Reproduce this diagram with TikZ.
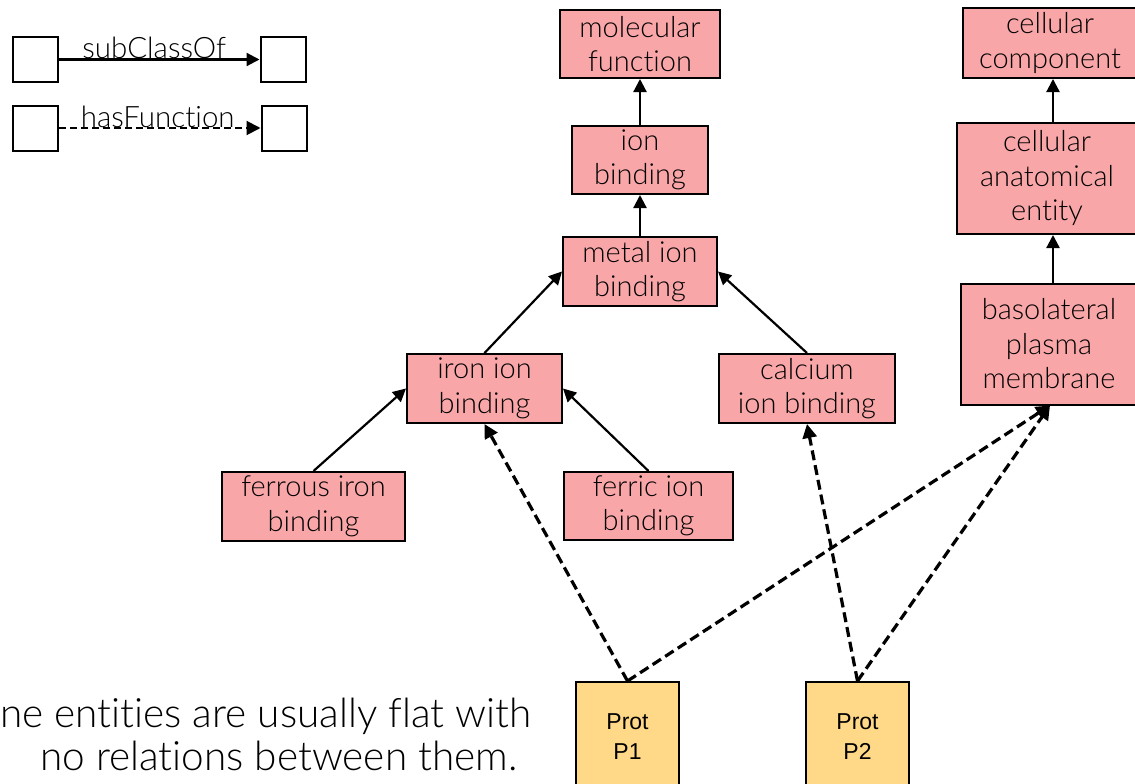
\documentclass[tikz,border=0pt]{standalone}
\usepackage{fontspec}
\setmainfont{Lato}[UprightFont=* Light, Ligatures=NoCommon]
\newfontfamily\protfont{Liberation Sans}
\usetikzlibrary{arrows.meta}
\definecolor{boxpink}{RGB}{249,166,168}
\definecolor{protyellow}{RGB}{255,217,135}
\tikzset{
  gobox/.style={draw=black, line width=2pt, fill=boxpink, inner sep=0pt, align=center,
    font=\fontsize{29}{34.5}\selectfont},
  protbox/.style={draw=black, line width=2pt, fill=protyellow, inner sep=0pt, align=center,
    font=\protfont\fontsize{23}{30}\selectfont},
  legbox/.style={draw=black, line width=2pt, fill=white, inner sep=0pt, minimum width=45pt, minimum height=45pt},
  subcl/.style={line width=2.2pt, -{Triangle[length=13pt,width=13pt]}},
  hasfn/.style={line width=3.2pt, dash pattern=on 10pt off 5pt, -{Triangle[length=14pt,width=14pt]}},
  leglabel/.style={inner sep=0pt, font=\fontsize{29.5}{32}\selectfont},
  bigtext/.style={inner sep=0pt, font=\fontsize{40.5}{45}\selectfont}
}
\begin{document}
\begin{tikzpicture}[x=1pt,y=-1pt]
\useasboundingbox (0,0) rectangle (1135,784);
% legend
\node[legbox] (l1) at (35.5,59.5) {};
\node[legbox] (l2) at (283,59.5) {};
\node[legbox] (l3) at (35.5,128) {};
\node[legbox] (l4) at (284,128) {};
\draw[subcl] (l1) -- (l2) node[leglabel, midway, anchor=base, yshift=1pt, xshift=-5pt] (lab1) {subClassOf};
\draw[hasfn, line width=2pt, dash pattern=on 7pt off 4pt] (l3) -- (l4) node[leglabel, midway, anchor=base, yshift=1pt, xshift=-2pt] (lab2) {hasFunction};
% GO nodes
\node[gobox, minimum width=160pt, minimum height=68pt] (mf) at (640,44) {molecular\\function};
\node[gobox, minimum width=136pt, minimum height=68pt] (ib) at (640,160) {ion\\binding};
\node[gobox, minimum width=154pt, minimum height=69pt] (mib) at (640,271.5) {metal ion\\binding};
\node[gobox, minimum width=155pt, minimum height=69pt] (iib) at (484.5,388.5) {iron ion\\binding};
\node[gobox, minimum width=176pt, minimum height=69pt] (cib) at (807,388.5) {calcium\\ion binding};
\node[gobox, minimum width=183pt, minimum height=69pt] (fib) at (313.5,506.5) {ferrous iron\\binding};
\node[gobox, minimum width=169pt, minimum height=68pt] (fcb) at (648.5,506) {ferric ion\\binding};
\node[gobox, minimum width=174pt, minimum height=70pt] (cc) at (1050,43) {cellular\\component};
\node[gobox, minimum width=180pt, minimum height=111pt] (cae) at (1047,178.5) {cellular\\anatomical\\entity};
\node[gobox, minimum width=176pt, minimum height=121pt] (bpm) at (1049,344) {basolateral\\plasma\\membrane};
% proteins
\node[protbox, minimum width=103pt, minimum height=110pt] (p1) at (627.5,737) {Prot\\P1};
\node[protbox, minimum width=103pt, minimum height=110pt] (p2) at (857.5,737) {Prot\\P2};
% subClassOf edges
\draw[subcl] (ib) -- (mf);
\draw[subcl] (mib) -- (ib);
\draw[subcl] (iib.north) -- (mib.west);
\draw[subcl] (cib.north) -- (mib.east);
\draw[subcl] (fib.north) -- (iib.west);
\draw[subcl] (fcb.north) -- (iib.east);
\draw[subcl] (cae.north -| cc.south) ++(3,0) coordinate (caetop) (caetop) -- (caetop |- cc.south);
\draw[subcl] ([xshift=4pt]bpm.north) -- ([xshift=6pt]cae.south);
% hasFunction edges
\draw[hasfn] (p1.north) -- (iib.south);
\draw[hasfn] (p1.north) -- ([xshift=1pt]bpm.south);
\draw[hasfn] (p2.north) -- (cib.south);
\draw[hasfn] (p2.north) -- ([xshift=1pt]bpm.south);
% bottom text
\node[bigtext, anchor=base west] (t1) at (0,727) {ne entities are usually flat with};
\node[bigtext, anchor=base west] (t2) at (40,770) {no relations between them.};
\end{tikzpicture}
\end{document}
